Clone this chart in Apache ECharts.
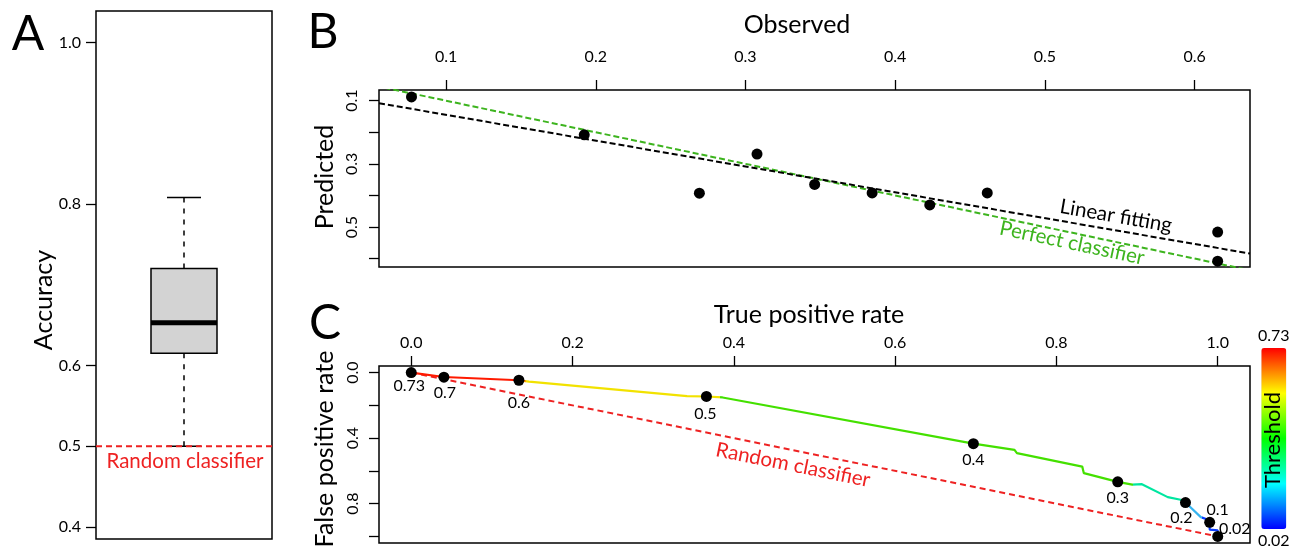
<!DOCTYPE html>
<html><head><meta charset="utf-8">
<script src="https://cdn.jsdelivr.net/npm/echarts@6/dist/echarts.min.js"></script>
<style>html,body{margin:0;padding:0;background:#fff}#c{width:1301px;height:546px}</style>
</head><body><div id="c"></div>
<script>
// ---------- Panel A : accuracy boxplot ----------
const accuracyBox = [0.5, 0.615, 0.653, 0.72, 0.808]; // min, Q1, median, Q3, max
const randomAccuracy = 0.5;
const accuracyTicks = [0.4, 0.5, 0.6, 0.8, 1.0];

// ---------- Panel B : observed vs predicted ----------
const observed  = [0.0769, 0.1923, 0.2692, 0.3077, 0.3462, 0.3846, 0.4231, 0.4615, 0.6154, 0.6154];
const predicted = [0.088, 0.208, 0.393, 0.269, 0.365, 0.392, 0.430, 0.392, 0.516, 0.608];
const fitObserved  = [0.0552, 0.637];
const fitPredicted = [0.108, 0.584];
const perfectObserved  = [0, 1];
const perfectPredicted = [0, 1];
const observedTicks  = [0.1, 0.2, 0.3, 0.4, 0.5, 0.6];
const predictedTicks = [0.1, 0.2, 0.3, 0.4, 0.5, 0.6];
const predictedLabels = [0.1, 0.3, 0.5];

// ---------- Panel C : ROC-like curve ----------
const rocTPR = [0, 0.0405, 0.1335, 0.146, 0.342, 0.366, 0.386, 0.697, 0.748, 0.751, 0.832, 0.834, 0.876, 0.894, 0.906, 0.938, 0.954, 0.960, 0.979, 0.980, 0.988, 0.990, 0.990, 1.0, 1.0];
const rocFPR = [0, 0.027, 0.047, 0.055, 0.144, 0.146, 0.152, 0.434, 0.472, 0.492, 0.574, 0.614, 0.667, 0.684, 0.681, 0.760, 0.776, 0.793, 0.882, 0.893, 0.898, 0.914, 0.958, 0.963, 1.0];
const dotTPR = [0, 0.0405, 0.1335, 0.366, 0.697, 0.876, 0.960, 0.990, 1.0];
const dotFPR = [0, 0.028, 0.047, 0.146, 0.434, 0.667, 0.793, 0.914, 1.0];
const dotThreshold = ['0.73', '0.7', '0.6', '0.5', '0.4', '0.3', '0.2', '0.1', '0.02'];
const randomTPR = [0, 1];
const randomFPR = [0, 1];
const tprTicks = [0, 0.2, 0.4, 0.6, 0.8, 1.0];
const fprTicks = [0, 0.2, 0.4, 0.6, 0.8, 1.0];
const fprLabels = [0, 0.4, 0.8];
const thresholdRange = [0.02, 0.73];
// curve colour bands along TPR
const curveBandBreaks = [0.134, 0.142, 0.383, 0.895, 0.961, 0.981];
const curveBandColors = ['#ff1a00', '#ff9a00', '#f2e200', '#44e000', '#00e6a0', '#36b4f0', '#0a3cff'];

// ---------- styles ----------
const FONT = 'Lato, "Open Sans", sans-serif';
const RED = '#ee2222', GREEN = '#3db41e';
const dotLabelOffset = {'0.73':[-2,13],'0.7':[1,16],'0.6':[0,23],'0.5':[-1,17],'0.4':[0,16],'0.3':[0,16],'0.2':[-4,15],'0.1':[8,-13],'0.02':[17,-8]};

const zip = (a, b) => a.map((v, i) => [v, b[i]]);
const tickStyle = {show: true, length: 10, lineStyle: {color: '#000', width: 1.3}};
const lblStyle = {color: '#000', fontSize: 16, fontFamily: FONT};
const fmt1 = v => (+v).toFixed(1);

const pieces = curveBandColors.map((c, i) => {
  const p = {color: c};
  if (i > 0) p.gte = curveBandBreaks[i - 1];
  if (i < curveBandBreaks.length) p.lt = curveBandBreaks[i];
  return p;
});

const chart = echarts.init(document.getElementById('c'), null, {renderer: 'canvas'});
const gridBase = {show: true, borderColor: '#000', borderWidth: 1.5, backgroundColor: 'transparent', containLabel: false, outerBoundsMode: 'none'};
const T = (text, x, y, size, extra) => Object.assign({type: 'text', x: x, y: y,
  style: {text: text, font: size + 'px ' + FONT, fill: '#000', align: 'center', verticalAlign: 'middle'}}, extra || {});

const option = {
  animation: false,
  textStyle: {fontFamily: FONT},
  grid: [
    Object.assign({left: 96, top: 11, width: 176, height: 528}, gridBase),
    Object.assign({left: 379, top: 90, width: 871, height: 177}, gridBase),
    Object.assign({left: 379, top: 366, width: 871, height: 177}, gridBase)
  ],
  xAxis: [
    {gridIndex: 0, type: 'value', min: 0, max: 1, show: false},
    {gridIndex: 1, type: 'value', position: 'top', min: 0.0552, max: 0.637,
     axisLine: {show: false, onZero: false}, splitLine: {show: false},
     axisTick: Object.assign({customValues: observedTicks}, tickStyle),
     axisLabel: Object.assign({customValues: observedTicks, formatter: fmt1, margin: 25}, lblStyle)},
    {gridIndex: 2, type: 'value', position: 'top', min: -0.04, max: 1.04,
     axisLine: {show: false, onZero: false}, splitLine: {show: false},
     axisTick: Object.assign({customValues: tprTicks}, tickStyle),
     axisLabel: Object.assign({customValues: tprTicks, formatter: fmt1, margin: 15}, lblStyle)}
  ],
  yAxis: [
    {gridIndex: 0, type: 'value', min: 0.385, max: 1.039,
     axisLine: {show: false, onZero: false}, splitLine: {show: false},
     axisTick: Object.assign({customValues: accuracyTicks}, tickStyle),
     axisLabel: Object.assign({customValues: accuracyTicks, formatter: fmt1, margin: 15}, lblStyle)},
    {gridIndex: 1, type: 'value', inverse: true, min: 0.0661, max: 0.6266,
     axisLine: {show: false, onZero: false}, splitLine: {show: false},
     axisTick: Object.assign({customValues: predictedTicks}, tickStyle),
     axisLabel: Object.assign({customValues: predictedLabels, formatter: fmt1, margin: 19, rotate: 90}, lblStyle)},
    {gridIndex: 2, type: 'value', inverse: true, min: -0.04, max: 1.04,
     axisLine: {show: false, onZero: false}, splitLine: {show: false},
     axisTick: Object.assign({customValues: fprTicks}, tickStyle),
     axisLabel: Object.assign({customValues: fprLabels, formatter: fmt1, margin: 18, rotate: 90}, lblStyle)}
  ],
  visualMap: [
    {type: 'piecewise', show: false, seriesIndex: 6, dimension: 0, pieces: pieces},
    {type: 'continuous', seriesIndex: 8, dimension: 1, min: thresholdRange[0], max: thresholdRange[1],
     calculable: false, hoverLink: false, orient: 'vertical', left: 1258, top: 328, padding: 0,
     itemWidth: 25, itemHeight: 181, textGap: 4,
     text: [thresholdRange[1].toFixed(2), thresholdRange[0].toFixed(2)],
     textStyle: {color: '#000', fontSize: 16, fontFamily: FONT},
     inRange: {color: ['#0000ff', '#00ffff', '#00ff00', '#ffff00', '#ff0000']}}
  ],
  series: [
    { // 0 boxplot (R style)
      type: 'custom', xAxisIndex: 0, yAxisIndex: 0, z: 2,
      data: [[0.5].concat(accuracyBox)],
      renderItem: function (params, api) {
        const x = api.value(0);
        const pMin = api.coord([x, api.value(1)]);
        const pQ1 = api.coord([x, api.value(2)]);
        const pMed = api.coord([x, api.value(3)]);
        const pQ3 = api.coord([x, api.value(4)]);
        const pMax = api.coord([x, api.value(5)]);
        const cx = pMin[0], hw = 33, cw = 17;
        const blk = {stroke: '#000', lineWidth: 1.5};
        const dash = {stroke: '#000', lineWidth: 1.5, lineDash: [5, 6]};
        return {type: 'group', children: [
          {type: 'line', shape: {x1: cx, y1: pQ3[1], x2: cx, y2: pMax[1]}, style: dash},
          {type: 'line', shape: {x1: cx, y1: pQ1[1], x2: cx, y2: pMin[1]}, style: dash},
          {type: 'line', shape: {x1: cx - cw, y1: pMax[1], x2: cx + cw, y2: pMax[1]}, style: blk},
          {type: 'line', shape: {x1: cx - cw, y1: pMin[1], x2: cx + cw, y2: pMin[1]}, style: blk},
          {type: 'rect', shape: {x: cx - hw, y: pQ3[1], width: 2 * hw, height: pQ1[1] - pQ3[1]},
           style: {fill: '#d3d3d3', stroke: '#000', lineWidth: 1.5}},
          {type: 'line', shape: {x1: cx - hw, y1: pMed[1], x2: cx + hw, y2: pMed[1]}, style: {stroke: '#000', lineWidth: 5}}
        ]};
      }
    },
    { // 1 random accuracy line
      type: 'line', xAxisIndex: 0, yAxisIndex: 0, z: 5, symbol: 'none',
      data: [[0, randomAccuracy], [1, randomAccuracy]],
      lineStyle: {color: RED, width: 2, type: [6, 4]}
    },
    { // 2 observed vs predicted points
      type: 'scatter', xAxisIndex: 1, yAxisIndex: 1, z: 6, symbolSize: 11,
      itemStyle: {color: '#000', opacity: 1}, data: zip(observed, predicted)
    },
    { // 3 perfect classifier
      type: 'line', xAxisIndex: 1, yAxisIndex: 1, z: 4, symbol: 'none', clip: true,
      data: zip(perfectObserved, perfectPredicted),
      lineStyle: {color: GREEN, width: 2, type: [6, 3]}
    },
    { // 4 linear fitting
      type: 'line', xAxisIndex: 1, yAxisIndex: 1, z: 4, symbol: 'none', clip: true,
      data: zip(fitObserved, fitPredicted),
      lineStyle: {color: '#000', width: 2, type: [6, 3]}
    },
    { // 5 random classifier
      type: 'line', xAxisIndex: 2, yAxisIndex: 2, z: 3, symbol: 'none',
      data: zip(randomTPR, randomFPR),
      lineStyle: {color: RED, width: 2, type: [6, 4]}
    },
    { // 6 curve
      type: 'line', xAxisIndex: 2, yAxisIndex: 2, z: 4, symbol: 'none',
      data: zip(rocTPR, rocFPR), lineStyle: {width: 2.2}
    },
    { // 7 threshold dots
      type: 'scatter', xAxisIndex: 2, yAxisIndex: 2, z: 6, symbolSize: 11,
      itemStyle: {color: '#000', opacity: 1},
      data: dotTPR.map((t, i) => ({
        value: [t, dotFPR[i]],
        label: {show: true, formatter: dotThreshold[i], position: 'inside', offset: dotLabelOffset[dotThreshold[i]],
                align: 'center', verticalAlign: 'middle', color: '#000', fontSize: 16, fontFamily: FONT}
      }))
    },
    { // 8 dummy series carrying the threshold colour scale
      type: 'scatter', xAxisIndex: 2, yAxisIndex: 2, data: []
    }
  ],
  graphic: [
    T('A', 28, 35, 48),
    T('B', 323, 33, 48),
    T('C', 325, 324, 48),
    T('Accuracy', 44, 300, 25, {rotation: Math.PI / 2}),
    T('Observed', 797, 25, 25),
    T('Predicted', 325, 177, 25, {rotation: Math.PI / 2}),
    T('True positive rate', 809, 315, 25),
    T('False positive rate', 325, 449, 25, {rotation: Math.PI / 2}),
    {type: 'text', x: 185, y: 461, style: {text: 'Random classifier', font: '20.5px ' + FONT, fill: RED, align: 'center', verticalAlign: 'middle'}},
    T('Linear fitting', 1116, 216, 20.5, {rotation: -0.171}),
    {type: 'text', x: 1072, y: 243, rotation: -0.208, style: {text: 'Perfect classifier', font: '20.5px ' + FONT, fill: GREEN, align: 'center', verticalAlign: 'middle'}},
    {type: 'text', x: 793, y: 465, rotation: -0.2, style: {text: 'Random classifier', font: '20.5px ' + FONT, fill: RED, align: 'center', verticalAlign: 'middle'}},
    T('Threshold', 1273, 440, 22, {rotation: Math.PI / 2, z: 100})
  ]
};
chart.setOption(option);
</script></body></html>
